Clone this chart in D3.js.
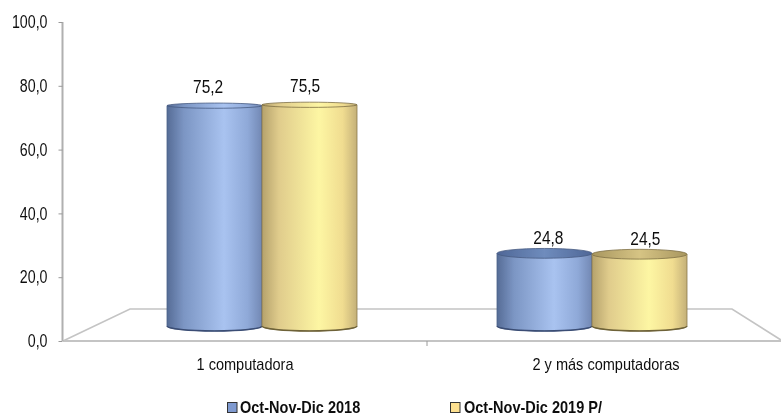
<!DOCTYPE html>
<html><head><meta charset="utf-8">
<script src="https://cdn.jsdelivr.net/npm/d3@7"></script>
<style>html,body{margin:0;background:#fff}svg{display:block}text{font-family:"Liberation Sans",Arial,sans-serif;fill:#111}</style>
</head><body><svg id="c" width="781" height="415"></svg>
<script>
const categories=["1 computadora","2 y más computadoras"];
const seriesNames=["Oct-Nov-Dic 2018","Oct-Nov-Dic 2019 P/"];
const series2018=[75.2,24.8];
const series2019=[75.5,24.5];
const tickValues=[0,20,40,60,80,100];
const fmt=v=>v.toFixed(1).replace(".",",");
function condense(sel,f){sel.each(function(){this.setAttribute("textLength",this.getComputedTextLength()*f);this.setAttribute("lengthAdjust","spacingAndGlyphs");});}
const svg=d3.select("#c");
const defs=svg.append("defs");
function grad(id,stops){const g=defs.append("linearGradient").attr("id",id);
 stops.forEach(([o,c])=>g.append("stop").attr("offset",o).attr("stop-color",c));}
grad("g0",[[0,"#566c96"],[.18,"#7c96c4"],[.6,"#a9c3f0"],[.85,"#8fa9d8"],[1,"#7288b4"]]);
grad("g1",[[0,"#b5a26c"],[.18,"#e0cc8c"],[.6,"#fdf6a3"],[.85,"#f0dc90"],[1,"#c4b078"]]);
grad("t0",[[0,"#4f6797"],[.5,"#6f8cbd"],[1,"#4f6797"]]);
grad("t1",[[0,"#a8965f"],[.5,"#d6c484"],[1,"#a8965f"]]);
const filt=defs.append("filter").attr("id","soft");filt.append("feGaussianBlur").attr("stdDeviation",0.6);
defs.append("filter").attr("id","softText").append("feGaussianBlur").attr("stdDeviation",0.25);

const yAxisScale=d3.scaleLinear().domain([0,100]).range([341,22]);
const yBar=d3.scaleLinear().domain([0,100]).range([326,33]);
const yLabel=d3.scaleLinear().domain([0,100]).range([318.5,18]);
const topRy=d3.scaleLinear().domain([0,100]).range([6,1.5]);
const x0=d3.scaleBand().domain(categories).range([97,757]);
const x1=d3.scaleBand().domain(seriesNames).range([-95,95]);
const xText0=d3.scaleBand().domain(categories).range([86.5,767]);
const xText1=d3.scaleBand().domain(seriesNames).range([-97,97]);
const xLabel=d3.scalePoint().domain(categories).range([245,606]);

// floor
const floor=svg.append("g").attr("fill","none").attr("stroke","#c4c4c4").attr("stroke-width",1.6).attr("filter","url(#soft)");
floor.append("path").attr("d","M63,341 L130,309 H732 L781,340");
floor.append("path").attr("d","M63,341 H781").attr("stroke-width",2);

// y axis
const ya=svg.append("g").attr("transform","translate(62.5,0)").call(d3.axisLeft(yAxisScale).tickValues(tickValues).tickFormat(fmt).tickSize(4).tickPadding(11));
ya.selectAll("line").attr("stroke","#9a9a9a");
ya.select(".domain").attr("d","M0,22V341").attr("stroke","#b0b0b0").attr("stroke-width",2);
ya.selectAll("text").attr("font-size",18).attr("fill","#111").call(condense,.79).attr("filter","url(#softText)");
// x axis labels
const xa=svg.append("g").attr("transform","translate(0,341)");
xa.append("line").attr("x1",x0.step()+x0.range()[0]).attr("x2",x0.step()+x0.range()[0]).attr("y1",0).attr("y2",5).attr("stroke","#9a9a9a");
xa.selectAll("text.c").data(categories).join("text").attr("class","c").attr("x",d=>xLabel(d)).attr("y",29).attr("text-anchor","middle").attr("font-size",17).attr("filter","url(#softText)").text(d=>d).call(condense,.855);

// cylinders
const rows=[];
categories.forEach((c,i)=>{rows.push({c,s:seriesNames[0],v:series2018[i],k:0});rows.push({c,s:seriesNames[1],v:series2019[i],k:1});});
const ry=5;
const bars=svg.append("g").selectAll("g").data(rows).join("g").attr("filter","url(#soft)");
bars.each(function(d){
 const g=d3.select(this);
 const l=x0(d.c)+x0.bandwidth()/2+x1(d.s), w=x1.bandwidth(), r=l+w, yT=yBar(d.v), yB=yBar(0), rt=topRy(d.v);
 g.append("path").attr("d",`M${l},${yT} V${yB} A${w/2},${ry} 0 0 0 ${r},${yB} V${yT} Z`).attr("fill",`url(#g${d.k})`).attr("stroke",d.k?"#8a7a4a":"#4a5f88").attr("stroke-width",.8);
 g.append("path").attr("d",`M${l},${yB} A${w/2},${ry} 0 0 0 ${r},${yB}`).attr("fill","none").attr("stroke",d.k?"#6e6238":"#3b4e75").attr("stroke-width",1.6);
 g.append("ellipse").attr("cx",l+w/2).attr("cy",yT).attr("rx",w/2).attr("ry",rt)
  .attr("fill",d.v>50?`url(#g${d.k})`:`url(#t${d.k})`).attr("stroke",d.k?"#7d6f44":"#465a82").attr("stroke-width",.8);
});
svg.append("g").selectAll("text").data(rows).join("text")
 .attr("x",d=>xText0(d.c)+xText0.bandwidth()/2+xText1(d.s)+xText1.bandwidth()/2)
 .attr("y",d=>yLabel(d.v)).attr("text-anchor","middle").attr("font-size",18).attr("filter","url(#softText)").text(d=>fmt(d.v)).call(condense,.86);

// legend
const legX=d3.scalePoint().domain(seriesNames).range([227,450]);
const lg=svg.append("g").selectAll("g").data(seriesNames).join("g").attr("transform",d=>`translate(${legX(d)},402)`);
lg.append("rect").attr("x",.5).attr("y",.5).attr("width",9.5).attr("height",10).attr("fill",(d,i)=>i?"#fde08f":"#7f9ad0").attr("stroke","#333").attr("stroke-width",1);
lg.append("text").attr("x",(d,i)=>i?14:13).attr("y",11).attr("font-size",16.5).attr("font-weight","bold").attr("filter","url(#softText)").text(d=>d).call(condense,.88);
</script></body></html>
